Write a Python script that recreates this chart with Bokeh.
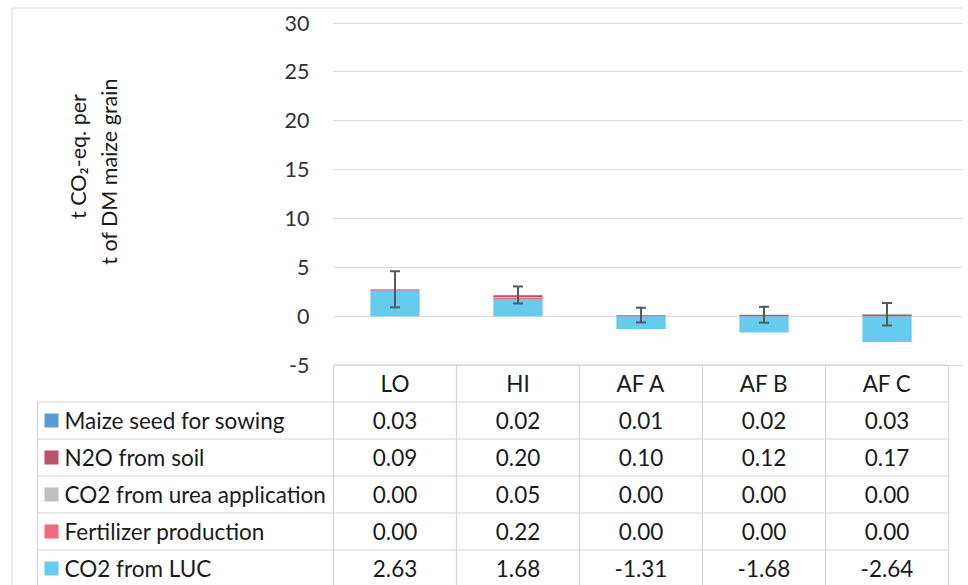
import numpy as np
from bokeh.plotting import figure
from bokeh.models import (ColumnDataSource, Range1d, LinearAxis, FixedTicker, Grid,
                          Label, Whisker, TeeHead)
from bokeh.core.properties import value
from bokeh.embed import file_html
from bokeh.resources import INLINE

# ---------------- data ----------------
categories = ["LO", "HI", "AF A", "AF B", "AF C"]
series_names = ["Maize seed for sowing", "N2O from soil", "CO2 from urea application",
                "Fertilizer production", "CO2 from LUC"]
series_colors = ["#5B9BD5", "#B9526A", "#BFBFBF", "#EF6A7E", "#66CCEE"]
maize_seed = [0.03, 0.02, 0.01, 0.02, 0.03]
n2o_soil = [0.09, 0.20, 0.10, 0.12, 0.17]
co2_urea = [0.00, 0.05, 0.00, 0.00, 0.00]
fert_prod = [0.00, 0.22, 0.00, 0.00, 0.00]
co2_luc = [2.63, 1.68, -1.31, -1.68, -2.64]
error_half = [1.85, 0.87, 0.75, 0.81, 1.15]
y_ticks = [-5, 0, 5, 10, 15, 20, 25, 30]
y_title_1 = "t CO\u2082-eq. per"
y_title_2 = "t of DM maize grain"

series = [maize_seed, n2o_soil, co2_urea, fert_prod, co2_luc]

# ---------------- layout geometry (canvas pixels) ----------------
W, H = 968, 585
COL_PX = 123.0
X0_PX = 333.0            # left of first category column
Y30_PX, YM5_PX = 22.5, 364.5
PPU = (YM5_PX - Y30_PX) / 35.0
ROW_PX = 37.0
MB_RIGHT = 6


def px2x(px):
    return (px - X0_PX) / COL_PX


def py2y(py):
    return 30 - (py - Y30_PX) / PPU


x_start = px2x(0)
x_end = px2x(W - MB_RIGHT)
y_end = py2y(0)
y_start = py2y(H)

FONT = "Lato"
FS = "22.5px"
TXT = "#1A1A1A"
LINE = "#D6D6D6"

p = figure(width=W, height=H, output_backend="svg", toolbar_location=None,
           x_range=Range1d(x_start, x_end), y_range=Range1d(y_start, y_end),
           x_axis_location=None, y_axis_location=None,
           min_border_left=0, min_border_right=MB_RIGHT, min_border_top=0, min_border_bottom=0)
p.outline_line_color = None
p.background_fill_color = "white"
p.border_fill_color = "white"
for g in p.grid:
    g.visible = False

# gridlines
grid = Grid(dimension=1, ticker=FixedTicker(ticks=y_ticks), grid_line_color="#D9D9D9",
            grid_line_width=1)
p.add_layout(grid)

# white cover over grid in the label-column region
header_top_y = py2y(YM5_PX)
row_top_px = YM5_PX + ROW_PX
p.quad(left=x_start, right=0, bottom=py2y(row_top_px), top=y_end, color="white", line_color=None)

# outer chart border (left and top)
p.segment(x0=[px2x(11.5), px2x(11.5)], x1=[px2x(11.5), x_end],
          y0=[py2y(7.5), py2y(7.5)], y1=[y_start, py2y(7.5)],
          line_color="#D9D9D9", line_width=1)

# ---------------- stacked bars ----------------
xc = [i + 0.5 for i in range(len(categories))]
pos = np.zeros(len(categories))
neg = np.zeros(len(categories))
for k in reversed(range(len(series))):
    vals = np.array(series[k], dtype=float)
    bottom = np.where(vals >= 0, pos, neg)
    top = bottom + vals
    pos = np.where(vals >= 0, top, pos)
    neg = np.where(vals < 0, top, neg)
    p.vbar(x=xc, bottom=bottom, top=top, width=0.4, fill_color=series_colors[k],
           line_color=None)

# error bars centred on top of positive stack
err_src = ColumnDataSource(dict(x=xc, upper=pos + np.array(error_half),
                                lower=pos - np.array(error_half)))
wh = Whisker(base="x", upper="upper", lower="lower", source=err_src, dimension="height",
             line_color="#595959", line_width=2, level="annotation",
             upper_head=TeeHead(size=10, line_color="#595959", line_width=2),
             lower_head=TeeHead(size=10, line_color="#595959", line_width=2))
p.add_layout(wh)

# ---------------- y axis ----------------
yaxis = LinearAxis(fixed_location=0, ticker=FixedTicker(ticks=y_ticks),
                   axis_line_color=None, major_tick_line_color=None,
                   minor_tick_line_color=None, major_tick_out=0, major_tick_in=0,
                   major_label_standoff=24, major_label_text_font=FONT,
                   major_label_text_font_size="21.5px", major_label_text_color="#333333",
                   major_label_overrides={t: str(t) for t in y_ticks})
p.add_layout(yaxis, "left")

for txt, px, py in [(y_title_1, 77, 156), (y_title_2, 108, 171)]:
    p.add_layout(Label(x=px2x(px), y=py2y(py), text=txt, angle=np.pi / 2,
                       text_align="center", text_baseline="middle", text_font=FONT,
                       text_font_size="21.5px", text_color=TXT))

# ---------------- data table ----------------
n_rows = len(series)
row_bounds_px = [YM5_PX + ROW_PX * (r + 1) for r in range(n_rows + 1)]
table_left = px2x(37)
# horizontal lines
hx0 = [0.0] + [table_left] * len(row_bounds_px)
hx1 = [float(len(categories))] * (len(row_bounds_px) + 1)
hy = [header_top_y] + [py2y(b) for b in row_bounds_px]
p.segment(x0=hx0, x1=hx1, y0=hy, y1=hy, line_color=LINE, line_width=1.2)
# vertical lines
vx = [table_left] + [float(i) for i in range(len(categories) + 1)]
vy0 = [py2y(row_top_px)] + [header_top_y] * (len(categories) + 1)
vy1 = [y_start] * len(vx)
p.segment(x0=vx, x1=vx, y0=vy0, y1=vy1, line_color=LINE, line_width=1.2)

# header row
p.text(x=xc, y=[py2y(YM5_PX + ROW_PX / 2)] * len(categories), text=categories,
       text_align="center", text_baseline="middle", text_font=value(FONT),
       text_font_size=FS, text_color=TXT)

row_centers = [py2y(YM5_PX + ROW_PX * (r + 1.5)) for r in range(n_rows)]
cx, cy, ct = [], [], []
for r in range(n_rows):
    for i in range(len(categories)):
        cx.append(xc[i])
        cy.append(row_centers[r])
        ct.append(f"{series[r][i]:.2f}")
p.text(x=cx, y=cy, text=ct, text_align="center", text_baseline="middle",
       text_font=value(FONT), text_font_size=FS, text_color=TXT)

# legend keys + series names
p.scatter(x=[px2x(51)] * n_rows, y=row_centers, marker="square", size=14,
          fill_color=series_colors, line_color=None)
p.text(x=[px2x(64)] * n_rows, y=row_centers, text=series_names, text_align="left",
       text_baseline="middle", text_font=value(FONT), text_font_size=FS, text_color=TXT)

open("out.html", "w").write(file_html(p, INLINE))
